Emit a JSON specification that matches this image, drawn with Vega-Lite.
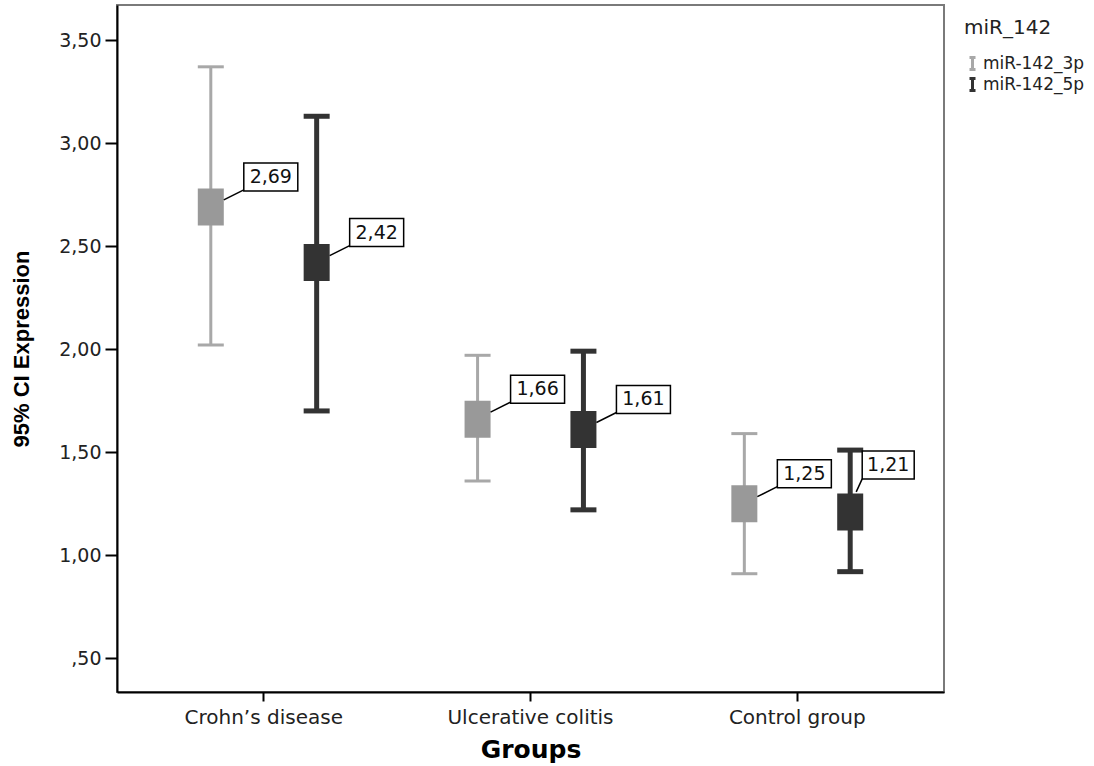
{
  "$schema": "https://vega.github.io/schema/vega-lite/v6.json",
  "width": 827,
  "height": 687,
  "padding": {"left": 10, "top": 5, "right": 0, "bottom": 5},
  "data": {
    "values": [
      {"group": "Crohn’s disease", "series": "miR-142_3p", "mean": 2.69, "lo": 2.02, "hi": 3.37},
      {"group": "Crohn’s disease", "series": "miR-142_5p", "mean": 2.42, "lo": 1.70, "hi": 3.13},
      {"group": "Ulcerative colitis", "series": "miR-142_3p", "mean": 1.66, "lo": 1.36, "hi": 1.97},
      {"group": "Ulcerative colitis", "series": "miR-142_5p", "mean": 1.61, "lo": 1.22, "hi": 1.99},
      {"group": "Control group", "series": "miR-142_3p", "mean": 1.25, "lo": 0.91, "hi": 1.59},
      {"group": "Control group", "series": "miR-142_5p", "mean": 1.21, "lo": 0.92, "hi": 1.51}
    ]
  },
  "encoding": {
    "x": {
      "field": "group", "type": "nominal",
      "sort": ["Crohn’s disease", "Ulcerative colitis", "Control group"],
      "scale": {"paddingInner": 0, "paddingOuter": 0.05},
      "title": "Groups",
      "axis": {
        "labelAngle": 0, "tickSize": 9, "tickWidth": 2, "tickColor": "#000",
        "domainColor": "#000", "domainWidth": 2,
        "labelFont": "DejaVu Sans", "labelFontSize": 20, "labelColor": "#222", "labelPadding": 6,
        "titleFont": "DejaVu Sans", "titleFontSize": 25, "titleFontWeight": "bold", "titleColor": "#000", "titlePadding": 10
      }
    },
    "xOffset": {
      "field": "series", "type": "nominal",
      "scale": {"paddingInner": 0, "paddingOuter": 0.26}
    }
  },
  "layer": [
    {
      "mark": {"type": "rule", "strokeCap": "butt"},
      "encoding": {
        "y": {
          "field": "lo", "type": "quantitative",
          "scale": {"domain": [0.336, 3.67], "nice": false, "zero": false},
          "title": "95% CI Expression",
          "axis": {
            "values": [0.5, 1, 1.5, 2, 2.5, 3, 3.5], "format": ".2f",
            "labelExpr": "datum.value < 1 ? replace(datum.label, '0,', ',') : datum.label",
            "grid": false, "tickSize": 12, "tickWidth": 2, "tickColor": "#000",
            "domainColor": "#000", "domainWidth": 2,
            "labelFont": "DejaVu Sans", "labelFontSize": 19, "labelColor": "#222", "labelPadding": 4,
            "titleFont": "Liberation Sans", "titleFontSize": 22, "titleFontWeight": "bold", "titleColor": "#000", "titlePadding": 25
          }
        },
        "y2": {"field": "hi"},
        "color": {
          "field": "series", "type": "nominal",
          "scale": {"range": ["#a8a8a8", "#333333"]},
          "legend": {
            "orient": "none", "legendX": 847, "legendY": 13,
            "title": "miR_142", "titleFont": "DejaVu Sans", "titleFontSize": 20, "titleFontWeight": "normal",
            "titleColor": "#222", "titlePadding": 17,
            "labelFont": "DejaVu Sans", "labelFontSize": 17, "labelColor": "#222", "labelOffset": 2,
            "symbolType": "M -0.6 -1.2 H 0.6 M 0 -1.2 V 1.2 M -0.6 1.2 H 0.6",
            "symbolSize": 100, "symbolStrokeWidth": 3, "rowPadding": -13
          }
        },
        "strokeWidth": {"field": "series", "type": "nominal", "scale": {"range": [3, 5]}, "legend": null}
      }
    },
    {
      "mark": {"type": "point", "shape": "M -1.3 0 H 1.3", "size": 400, "filled": false, "opacity": 1, "strokeCap": "butt"},
      "encoding": {
        "y": {"field": "lo", "type": "quantitative", "scale": {"domain": [0.336, 3.67], "nice": false, "zero": false}},
        "stroke": {"field": "series", "type": "nominal", "scale": {"range": ["#a8a8a8", "#333333"]}, "legend": null},
        "strokeWidth": {"field": "series", "type": "nominal", "scale": {"range": [3, 5]}, "legend": null}
      }
    },
    {
      "mark": {"type": "point", "shape": "M -1.3 0 H 1.3", "size": 400, "filled": false, "opacity": 1, "strokeCap": "butt"},
      "encoding": {
        "y": {"field": "hi", "type": "quantitative", "scale": {"domain": [0.336, 3.67], "nice": false, "zero": false}},
        "stroke": {"field": "series", "type": "nominal", "scale": {"range": ["#a8a8a8", "#333333"]}, "legend": null},
        "strokeWidth": {"field": "series", "type": "nominal", "scale": {"range": [3, 5]}, "legend": null}
      }
    },
    {
      "mark": {"type": "point", "shape": "M -1.3 -1.85 H 1.3 V 1.85 H -1.3 Z", "size": 400, "filled": true, "opacity": 1, "strokeWidth": 1},
      "encoding": {
        "y": {"field": "mean", "type": "quantitative", "scale": {"domain": [0.336, 3.67], "nice": false, "zero": false}},
        "fill": {"field": "series", "type": "nominal", "scale": {"range": ["#999999", "#333333"]}, "legend": null}
      }
    },
    {
      "transform": [{"filter": "!(datum.group == 'Control group' && datum.series == 'miR-142_5p')"}],
      "mark": {"type": "point", "shape": "M 1.3 -0.7 L 3.3 -1.7", "size": 400, "filled": false, "opacity": 1, "stroke": "#000", "strokeWidth": 1.5},
      "encoding": {
        "y": {"field": "mean", "type": "quantitative", "scale": {"domain": [0.336, 3.67], "nice": false, "zero": false}}
      }
    },
    {
      "transform": [{"filter": "!(datum.group == 'Control group' && datum.series == 'miR-142_5p')"}],
      "mark": {"type": "point", "shape": "M 3.3 -4.4 H 8.7 V -1.6 H 3.3 Z", "size": 400, "filled": true, "opacity": 1, "fill": "#fff", "stroke": "#000", "strokeWidth": 1.5},
      "encoding": {
        "y": {"field": "mean", "type": "quantitative", "scale": {"domain": [0.336, 3.67], "nice": false, "zero": false}}
      }
    },
    {
      "transform": [{"filter": "!(datum.group == 'Control group' && datum.series == 'miR-142_5p')"}],
      "mark": {"type": "text", "dx": 60, "dy": -30, "align": "center", "baseline": "middle", "font": "DejaVu Sans", "fontSize": 19, "color": "#111"},
      "encoding": {
        "y": {"field": "mean", "type": "quantitative", "scale": {"domain": [0.336, 3.67], "nice": false, "zero": false}},
        "text": {"field": "mean", "type": "quantitative", "format": ".2f"}
      }
    },
    {
      "transform": [{"filter": "datum.group == 'Control group' && datum.series == 'miR-142_5p'"}],
      "mark": {"type": "point", "shape": "M 0.6 -2.0 L 1.2 -3.3", "size": 400, "filled": false, "opacity": 1, "stroke": "#000", "strokeWidth": 1.5},
      "encoding": {
        "y": {"field": "mean", "type": "quantitative", "scale": {"domain": [0.336, 3.67], "nice": false, "zero": false}}
      }
    },
    {
      "transform": [{"filter": "datum.group == 'Control group' && datum.series == 'miR-142_5p'"}],
      "mark": {"type": "point", "shape": "M 1.2 -6.1 H 6.4 V -3.3 H 1.2 Z", "size": 400, "filled": true, "opacity": 1, "fill": "#fff", "stroke": "#000", "strokeWidth": 1.5},
      "encoding": {
        "y": {"field": "mean", "type": "quantitative", "scale": {"domain": [0.336, 3.67], "nice": false, "zero": false}}
      }
    },
    {
      "transform": [{"filter": "datum.group == 'Control group' && datum.series == 'miR-142_5p'"}],
      "mark": {"type": "text", "dx": 38, "dy": -47, "align": "center", "baseline": "middle", "font": "DejaVu Sans", "fontSize": 19, "color": "#111"},
      "encoding": {
        "y": {"field": "mean", "type": "quantitative", "scale": {"domain": [0.336, 3.67], "nice": false, "zero": false}},
        "text": {"field": "mean", "type": "quantitative", "format": ".2f"}
      }
    }
  ],
  "config": {
    "view": {"stroke": "#7a7a7a", "strokeWidth": 2},
    "locale": {"number": {"decimal": ",", "thousands": ".", "grouping": [3], "currency": ["", " €"]}}
  }
}
